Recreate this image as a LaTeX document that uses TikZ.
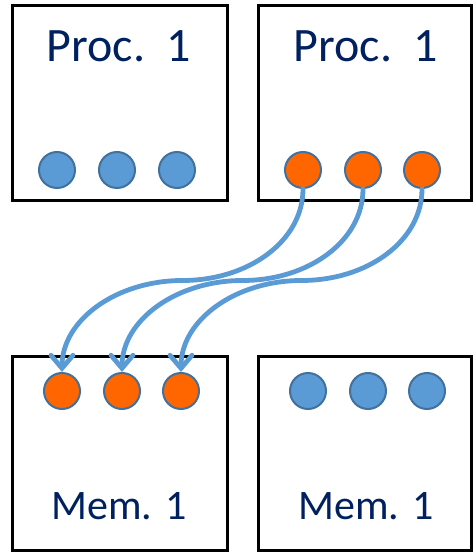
\documentclass[tikz,border=0pt]{standalone}
\usepackage{fontspec}
\setmainfont{Carlito}
\usetikzlibrary{arrows.meta,calc}
\definecolor{navy}{HTML}{002060}
\definecolor{dotblue}{HTML}{5B9BD5}
\definecolor{dotedge}{HTML}{41719C}
\definecolor{dotorange}{HTML}{FF6600}
\begin{document}
\begin{tikzpicture}[x=1pt,y=1pt,
  boxst/.style={draw=black,line width=3pt},
  bluedot/.style={circle,draw=dotedge,line width=2pt,fill=dotblue,minimum size=36pt,inner sep=0pt},
  orangedot/.style={circle,draw=dotedge,line width=2pt,fill=dotorange,minimum size=36pt,inner sep=0pt},
  proclabel/.style={text=navy,font=\fontsize{48}{48}\selectfont,anchor=base,inner sep=0pt},
  memlabel/.style={text=navy,font=\fontsize{42}{42}\selectfont,anchor=base,inner sep=0pt},
  flow/.style={draw=dotblue,line width=4.8pt,line cap=round,-{Straight Barb[length=13pt,width=22pt,line cap=round]}}
]
\useasboundingbox (0,0) rectangle (472,552);
% boxes
\draw[boxst] (12,351) rectangle (227,546);
\draw[boxst] (258,351) rectangle (471,546);
\draw[boxst] (12,1) rectangle (227,195);
\draw[boxst] (258,1) rectangle (471,195);
% labels
\node[proclabel] (p1) at (119,490) {Proc.\ \ 1};
\node[proclabel] (p2) at (366,490) {Proc.\ \ 1};
\node[memlabel] (m1) at (119,32) {Mem. 1};
\node[memlabel] (m2) at (366,32) {Mem. 1};
% dots
\node[bluedot] (a1) at (57,382) {};
\node[bluedot] (a2) at (117,382) {};
\node[bluedot] (a3) at (177,382) {};
\node[orangedot] (b1) at (303,382) {};
\node[orangedot] (b2) at (363,382) {};
\node[orangedot] (b3) at (422,382) {};
\node[orangedot] (c1) at (62,161) {};
\node[orangedot] (c2) at (122,161) {};
\node[orangedot] (c3) at (181,161) {};
\node[bluedot] (d1) at (308,161) {};
\node[bluedot] (d2) at (368,161) {};
\node[bluedot] (d3) at (427,161) {};
% arrows
\foreach \s/\t in {b1/c1,b2/c2,b3/c3}{
  \coordinate (mid\s) at ($(\s.south)!0.5!(\t.north)$);
  \draw[flow] (\s.south) .. controls +(0,-52) and +(66,0) .. (mid\s)
     .. controls +(-66,0) and +(0,52) .. (\t.north);
}
\end{tikzpicture}
\end{document}
